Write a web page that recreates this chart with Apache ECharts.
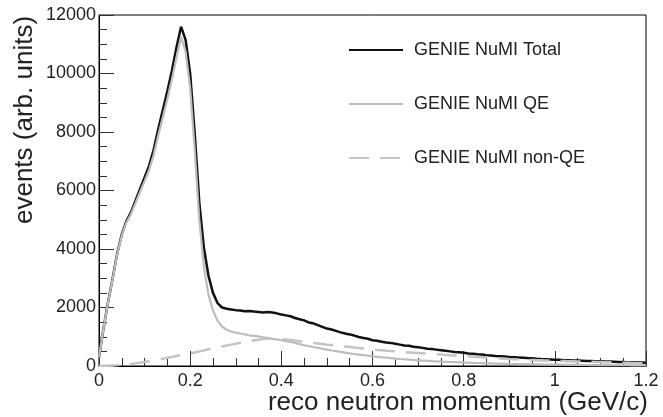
<!DOCTYPE html>
<html>
<head>
<meta charset="utf-8">
<script src="https://cdn.jsdelivr.net/npm/echarts@6/dist/echarts.min.js"></script>
<style>
  html, body { margin: 0; padding: 0; background: #fff; }
  #chart { width: 663px; height: 417px; }
</style>
</head>
<body>
<div id="chart"></div>
<script>
// bin centres: 0.00 .. 1.20 GeV/c, step 0.01
var binStep = 0.01;

var totalVals = [
    300, 1300, 2200, 3000, 3850, 4500, 4950, 5250, 5650, 6050,
    6450, 6850, 7400, 8100, 8750, 9400, 10100, 10900, 11600, 11150,
    10000, 7950, 5600, 4050, 3100, 2500, 2150, 2000, 1960, 1930,
    1910, 1900, 1870, 1880, 1860, 1850, 1830, 1850, 1830, 1800,
    1760, 1730, 1700, 1640, 1600, 1560, 1490, 1460, 1400, 1340,
    1280, 1250, 1200, 1150, 1110, 1080, 1040, 990, 960, 930,
    880, 860, 830, 800, 790, 760, 730, 700, 690, 660,
    640, 620, 590, 580, 560, 540, 520, 500, 480, 470,
    450, 430, 420, 400, 390, 370, 360, 345, 335, 325,
    310, 300, 290, 280, 270, 265, 250, 240, 235, 225,
    215, 210, 200, 195, 190, 185, 180, 175, 170, 165,
    160, 155, 150, 145, 140, 138, 132, 128, 125, 120,
    115
];

var qeVals = [
    300, 1300, 2190, 2980, 3820, 4460, 4900, 5190, 5570, 5950,
    6320, 6700, 7220, 7890, 8500, 9130, 9800, 10550, 11250, 10750,
    9500, 7400, 5000, 3400, 2450, 1900, 1550, 1350, 1240, 1180,
    1140, 1110, 1080, 1050, 1030, 1010, 980, 960, 930, 910,
    880, 850, 820, 790, 750, 710, 680, 650, 620, 590,
    560, 530, 510, 480, 460, 430, 410, 390, 370, 350,
    330, 315, 300, 285, 270, 255, 240, 230, 215, 205,
    195, 185, 175, 165, 158, 150, 143, 136, 130, 124,
    118, 112, 107, 102, 97, 92, 88, 84, 80, 76,
    72, 69, 66, 63, 60, 57, 55, 52, 50, 48,
    46, 44, 42, 40, 39, 37, 36, 34, 33, 32,
    31, 30, 29, 28, 27, 26, 25, 24, 23, 22,
    21
];

var nonQeVals = [
    0, 5, 10, 20, 30, 40, 55, 70, 90, 110,
    135, 160, 190, 220, 250, 280, 310, 340, 370, 400,
    430, 460, 500, 530, 570, 600, 640, 670, 700, 730,
    760, 790, 820, 850, 880, 900, 920, 935, 945, 940,
    930, 910, 890, 870, 850, 830, 810, 790, 770, 750,
    730, 715, 700, 680, 665, 650, 630, 615, 600, 585,
    565, 550, 540, 525, 515, 500, 490, 475, 465, 455,
    445, 435, 425, 415, 400, 390, 380, 370, 360, 350,
    340, 330, 320, 310, 300, 290, 280, 270, 260, 250,
    240, 235, 225, 220, 210, 205, 200, 195, 190, 185,
    180, 175, 170, 165, 160, 155, 150, 146, 142, 138,
    134, 130, 126, 122, 118, 114, 110, 106, 102, 98,
    95
];

var seriesNames = ['GENIE NuMI Total', 'GENIE NuMI QE', 'GENIE NuMI non-QE'];

function toPairs(vals) {
    var res = [];
    for (var i = 0; i < vals.length; i++) {
        res.push([+(i * binStep).toFixed(2), vals[i]]);
    }
    return res;
}

var fontFam = '"Liberation Sans", Arial, Helvetica, sans-serif';
var chart = echarts.init(document.getElementById('chart'), null, { renderer: 'canvas' });

var option = {
    backgroundColor: '#fff',
    animation: false,
    grid: {
        left: 99, right: 17, top: 15, bottom: 51,
        show: true,
        borderColor: '#000',
        borderWidth: 1
    },
    legend: {
        orient: 'vertical',
        left: 343,
        top: 35,
        itemWidth: 54,
        itemHeight: 20,
        itemGap: 34,
        data: seriesNames,
        itemStyle: { opacity: 0 },
        textStyle: {
            fontFamily: fontFam,
            fontSize: 18,
            lineHeight: 20,
            color: '#222',
            padding: [0, 0, 0, 6]
        }
    },
    xAxis: {
        type: 'value',
        min: 0,
        max: 1.2,
        interval: 0.2,
        axisLine: { lineStyle: { color: '#000', width: 1 } },
        axisTick: { inside: true, length: 15, lineStyle: { color: '#333' } },
        minorTick: { show: true, splitNumber: 4, length: 8, lineStyle: { color: '#333' } },
        splitLine: { show: false },
        axisLabel: { fontFamily: fontFam, fontSize: 18, color: '#222', margin: 6 }
    },
    yAxis: {
        type: 'value',
        min: 0,
        max: 12000,
        interval: 2000,
        axisLine: { show: true, lineStyle: { color: '#000', width: 1 } },
        axisTick: { show: true, inside: true, length: 15, lineStyle: { color: '#333' } },
        minorTick: { show: true, splitNumber: 4, length: 8, lineStyle: { color: '#333' } },
        splitLine: { show: false },
        axisLabel: {
            fontFamily: fontFam, fontSize: 18, color: '#222', margin: 3,
            formatter: function (v) { return String(v); }
        }
    },
    graphic: [
        {
            type: 'text',
            x: 25, y: 120,
            rotation: Math.PI / 2,
            style: {
                text: 'events (arb. units)',
                font: '26px ' + fontFam,
                fill: '#222',
                textAlign: 'center',
                textVerticalAlign: 'middle'
            }
        },
        {
            type: 'text',
            x: 648, y: 403,
            style: {
                text: 'reco neutron momentum (GeV/c)',
                font: '26px ' + fontFam,
                fill: '#222',
                textAlign: 'right',
                textVerticalAlign: 'middle'
            }
        }
    ],
    series: [
        {
            name: seriesNames[0],
            type: 'line',
            symbol: 'none',
            color: '#111',
            lineStyle: { color: '#111', width: 2.5 },
            data: toPairs(totalVals),
            z: 2
        },
        {
            name: seriesNames[1],
            type: 'line',
            symbol: 'none',
            color: '#bdbdbd',
            lineStyle: { color: '#bdbdbd', width: 2.2 },
            data: toPairs(qeVals),
            z: 3
        },
        {
            name: seriesNames[2],
            type: 'line',
            symbol: 'none',
            color: '#c4c4c4',
            lineStyle: { color: '#c4c4c4', width: 2.5, type: [20, 11] },
            data: toPairs(nonQeVals),
            z: 4
        }
    ]
};
chart.setOption(option);
</script>
</body>
</html>
